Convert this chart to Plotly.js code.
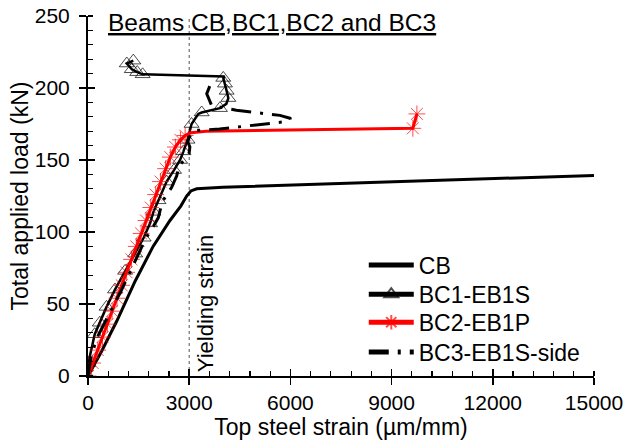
<!DOCTYPE html>
<html>
<head>
<meta charset="utf-8">
<script src="https://cdn.plot.ly/plotly-3.0.1.min.js"></script>
<style>html,body{margin:0;padding:0;background:#fff;}#chart{width:623px;height:446px;}</style>
</head>
<body>
<div id="chart"></div>
<script>
// ---- Data ----
const seriesNames = ["CB", "BC1-EB1S", "BC2-EB1P", "BC3-EB1S-side"];

const cbStrain = [0, 400, 850, 1400, 1930, 2430, 2750, 2925, 3050, 3222, 4000, 7173, 11000, 15000];
const cbLoad   = [0, 17, 38, 66, 90, 108, 118, 125, 128.5, 130, 131, 133.5, 136.5, 139.3];

const bc1Strain = [0, 10, 200, 350, 550, 800, 1100, 1400, 1650, 1840, 1940, 2090, 2330, 2550, 2730, 2830, 2950, 3070, 3270, 3370, 3700, 3912, 4100, 4160, 4110, 4060, 4010, 4050, 1620, 1460, 1300, 1150, 1343];
const bc1Load   = [0, 9, 29, 37, 48, 60, 73, 85, 96, 106, 114, 122, 135, 143, 150, 156, 164, 175, 182, 183, 185, 186, 189, 193, 198, 203, 207, 208, 209.5, 211, 213, 217, 219];
const bc1Marker = [1, 1, 1, 1, 1, 1, 1, 1, 1, 1, 1, 1, 1, 1, 1, 1, 1, 1, 0, 1, 0, 1, 0, 1, 1, 1, 1, 0, 1, 1, 1, 1, 1];

const bc2Strain = [0, 140, 290, 430, 575, 715, 860, 1000, 1145, 1290, 1430, 1575, 1720, 1860, 2005, 2150, 2300, 2440, 2590, 2740, 2880, 3050, 3500, 5000, 7000, 9000, 9630, 9750];
const bc2Load   = [0, 9, 18, 27, 36, 45, 54, 63, 72, 81, 90, 99, 108, 117, 126, 135, 144, 152, 159, 164, 167, 169, 170, 170.5, 171, 171.8, 172, 182];
const bc2Marker = [1, 1, 1, 1, 1, 1, 1, 1, 1, 1, 1, 1, 1, 1, 1, 1, 1, 1, 1, 1, 1, 0, 0, 0, 0, 0, 1, 1];

const bc3Strain = [0, 100, 300, 600, 1000, 1400, 1700, 1940, 2085, 2200, 2480, 2630, 2700, 2850, 3000, 3020, 2950, 3050, 3170, 3900, 4455, 5250, 5800, 6000, 5990, 5690, 5048, 4400, 3666, 3520, 3616];
const bc3Load   = [0, 15, 28, 42, 60, 80, 95, 104, 110, 121, 131, 139, 146, 150, 155, 159, 163, 168, 170.5, 171.5, 173, 175, 176.5, 178, 179, 181, 182.5, 184.5, 187.8, 196, 201.7];

const xTicks = [0, 3000, 6000, 9000, 12000, 15000];
const yTicks = [0, 50, 100, 150, 200, 250];
const yieldStrain = 3000;

const titleText = "Beams CB,BC1,BC2 and BC3";
const xTitle = "Top steel strain (µm/mm)";
const yTitle = "Total applied load (kN)";
const yieldLabel = "Yielding strain";

// ---- Chart ----
const FONT = "Liberation Sans, Arial, Helvetica, sans-serif";

const traces = [
  { x: cbStrain, y: cbLoad, name: seriesNames[0], mode: "lines", legend: "legend",
    line: { color: "#000", width: 3 } },
  { x: bc1Strain, y: bc1Load, name: seriesNames[1], mode: "lines+markers", legend: "legend2",
    line: { color: "#000", width: 2.5 },
    marker: { symbol: "triangle-up-open", size: bc1Marker.map(v => v ? 13 : 0), color: "#000", line: { width: 1, color: "#000" } } },
  { x: bc2Strain, y: bc2Load, name: seriesNames[2], mode: "lines+markers", legend: "legend3",
    line: { color: "#ff0000", width: 3 },
    marker: { symbol: "asterisk-open", size: bc2Marker.map(v => v ? 14 : 0), color: "#ff0000", line: { width: 1, color: "#ff0000" } } },
  { x: bc3Strain, y: bc3Load, name: seriesNames[3], mode: "lines", legend: "legend4",
    line: { color: "#000", width: 3, dash: "20px,9px,3px,9px" } }
];

const axisCommon = {
  showgrid: false, zeroline: false, showline: true, linecolor: "#000", linewidth: 2,
  ticks: "outside", ticklen: 7, tickwidth: 1.5, tickcolor: "#000",
  ticklabeloverflow: "allow",
  tickfont: { family: FONT, size: 21, color: "#000" }
};

function legendAt(yTop) {
  return {
    x: 0.545, y: yTop, xanchor: "left", yanchor: "top",
    bgcolor: "rgba(0,0,0,0)", borderwidth: 0,
    font: { family: FONT, size: 23, color: "#000" },
    itemwidth: 45, tracegroupgap: 0, itemsizing: "constant"
  };
}

const layout = {
  width: 623, height: 446,
  margin: { l: 88, r: 29, t: 16, b: 70 },
  paper_bgcolor: "#fff", plot_bgcolor: "#fff",
  font: { family: FONT, color: "#000" },
  showlegend: true,
  legend: legendAt(0.368),
  legend2: legendAt(0.287),
  legend3: legendAt(0.209),
  legend4: legendAt(0.126),
  xaxis: Object.assign({}, axisCommon, {
    range: [0, 15000], tickvals: xTicks, ticktext: xTicks.map(String),
    minor: { dtick: 600, ticks: "inside", ticklen: 5, tickwidth: 1.2, tickcolor: "#000" },
    title: { text: xTitle, font: { family: FONT, size: 23, color: "#000" }, standoff: 4 }
  }),
  yaxis: Object.assign({}, axisCommon, {
    range: [0, 250], tickvals: yTicks, ticktext: yTicks.map(String),
    ticklabelstandoff: 5,
    minor: { dtick: 10, ticks: "inside", ticklen: 5, tickwidth: 1.2, tickcolor: "#000" },
    title: { text: yTitle, font: { family: FONT, size: 23, color: "#000" }, standoff: 0 }
  }),
  xaxis2: {
    overlaying: "x", anchor: "y", side: "bottom", range: [0, 15000],
    showgrid: false, zeroline: false, showline: false, showticklabels: false,
    tickvals: xTicks, ticks: "inside", ticklen: 7, tickwidth: 1.5, tickcolor: "#000"
  },
  yaxis2: {
    overlaying: "y", anchor: "x", side: "left", range: [0, 250],
    showgrid: false, zeroline: false, showline: false, showticklabels: false,
    tickvals: yTicks, ticks: "inside", ticklen: 7, tickwidth: 1.5, tickcolor: "#000"
  },
  shapes: [
    { type: "line", xref: "x", yref: "paper", x0: yieldStrain, x1: yieldStrain, y0: 0, y1: 1,
      line: { color: "#555", width: 1, dash: "dot" }, layer: "below" }
  ],
  annotations: [
    { text: "<u>" + titleText + "</u>", xref: "paper", yref: "paper", x: 0.036, y: 0.983,
      xanchor: "left", yanchor: "middle", showarrow: false,
      font: { family: FONT, size: 24.5, color: "#000" } },
    { text: yieldLabel, xref: "x", yref: "paper", x: yieldStrain, y: 0.2, xshift: 16,
      textangle: -90, xanchor: "center", yanchor: "middle", showarrow: false,
      font: { family: FONT, size: 22, color: "#000" } }
  ]
};

// invisible trace so the overlay axes (crossing major ticks) are drawn
traces.push({ x: [0], y: [0], xaxis: "x2", yaxis: "y2", mode: "markers", marker: { size: 0, opacity: 0 }, showlegend: false, hoverinfo: "skip" });

Plotly.newPlot("chart", traces, layout, { staticPlot: true, displayModeBar: false });
</script>
</body>
</html>
